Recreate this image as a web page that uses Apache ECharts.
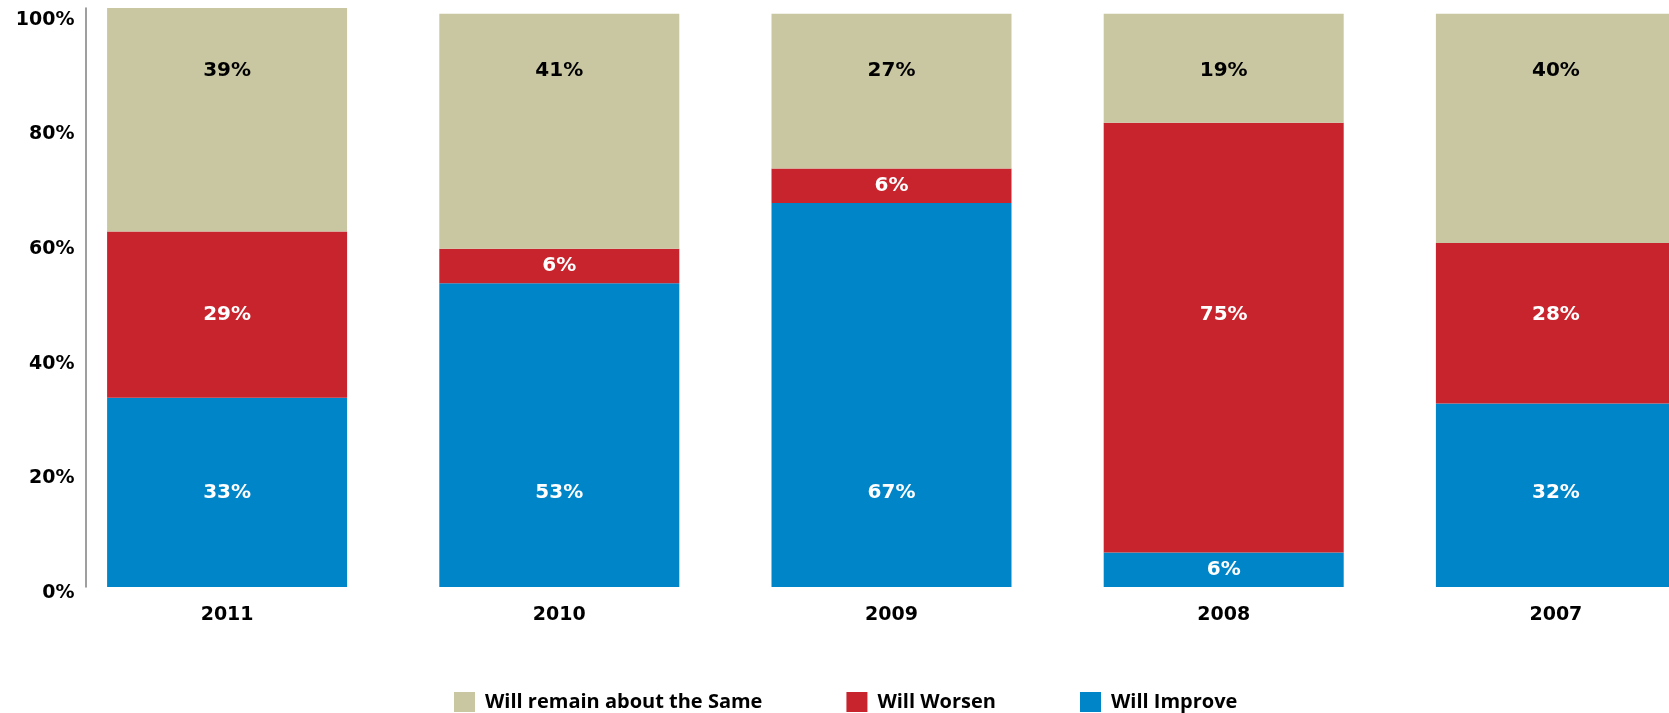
<!DOCTYPE html>
<html>
<head>
<meta charset="utf-8">
<script src="https://cdn.jsdelivr.net/npm/echarts@6/dist/echarts.min.js"></script>
<style>
  html, body { margin: 0; padding: 0; background: #ffffff; }
  #chart { width: 1669px; height: 713px; }
</style>
</head>
<body>
<div id="chart"></div>
<script>
// Survey outlook by year (percent of respondents)
const years = ['2011', '2010', '2009', '2008', '2007'];
const improve = [33, 53, 67, 6, 32];
const worsen = [29, 6, 6, 75, 28];
const same = [39, 41, 27, 19, 40];
const yTicks = [0, 20, 40, 60, 80, 100];

const seriesNames = ['Will Improve', 'Will Worsen', 'Will remain about the Same'];
const legendOrder = ['Will remain about the Same', 'Will Worsen', 'Will Improve'];

const numFont = 'DejaVu Sans';
const textFont = 'Open Sans';

const chart = echarts.init(document.getElementById('chart'), null, { renderer: 'canvas' });

// Labels of tall segments sit on a shared row per series; short segments keep a centred label.
function rowLayout(values, rowValue) {
  return function (p) {
    const v = values[p.dataIndex];
    const cx = p.rect.x + p.rect.width / 2;
    const y = v < 15
      ? p.rect.y + p.rect.height / 2
      : chart.convertToPixel({ yAxisIndex: 0 }, rowValue);
    return { x: cx, y: y, align: 'center', verticalAlign: 'middle' };
  };
}

function makeSeries(name, values, color, labelColor, rowValue) {
  return {
    name: name,
    type: 'bar',
    stack: 'total',
    barWidth: 240,
    data: values,
    itemStyle: { color: color },
    label: {
      show: true,
      position: 'inside',
      formatter: function (p) { return p.value + '%'; },
      color: labelColor,
      fontFamily: numFont,
      fontWeight: 'bold',
      fontSize: 20
    },
    labelLayout: rowLayout(values, rowValue),
    emphasis: { disabled: true },
    animation: false
  };
}

chart.setOption({
  animation: false,
  backgroundColor: '#ffffff',
  grid: {
    left: 61, width: 1661, top: 8, bottom: 126,
    containLabel: false,
    outerBoundsMode: 'none'
  },
  legend: {
    data: legendOrder,
    left: 449,
    top: 687,
    itemWidth: 21,
    itemHeight: 20,
    itemGap: 84,
    icon: 'rect',
    selectedMode: false,
    textStyle: {
      fontFamily: textFont,
      fontWeight: 'bold',
      fontSize: 20,
      color: '#000000',
      padding: [0, 0, 0, 5]
    }
  },
  xAxis: {
    type: 'category',
    data: years,
    axisLine: { show: false },
    axisTick: { show: false },
    axisLabel: {
      margin: 19,
      color: '#000000',
      fontFamily: numFont,
      fontWeight: 'bold',
      fontSize: 19
    },
    splitLine: { show: false }
  },
  yAxis: {
    type: 'value',
    min: 0,
    max: 101,
    interval: 20,
    offset: -24.5,
    axisLine: { show: true, lineStyle: { color: '#7f7f7f', width: 1.5 } },
    axisTick: { show: false },
    splitLine: { show: false },
    axisLabel: {
      margin: 11,
      color: '#000000',
      fontFamily: numFont,
      fontWeight: 'bold',
      fontSize: 19,
      verticalAlign: 'top',
      lineHeight: 12,
      formatter: function (v) { return yTicks.indexOf(v) >= 0 ? v + '%' : ''; }
    }
  },
  series: [
    makeSeries(seriesNames[0], improve, '#0085C9', '#ffffff', 16.5),
    makeSeries(seriesNames[1], worsen, '#C8242D', '#ffffff', 47.5),
    makeSeries(seriesNames[2], same, '#C9C6A2', '#000000', 90.1)
  ]
});
</script>
</body>
</html>
